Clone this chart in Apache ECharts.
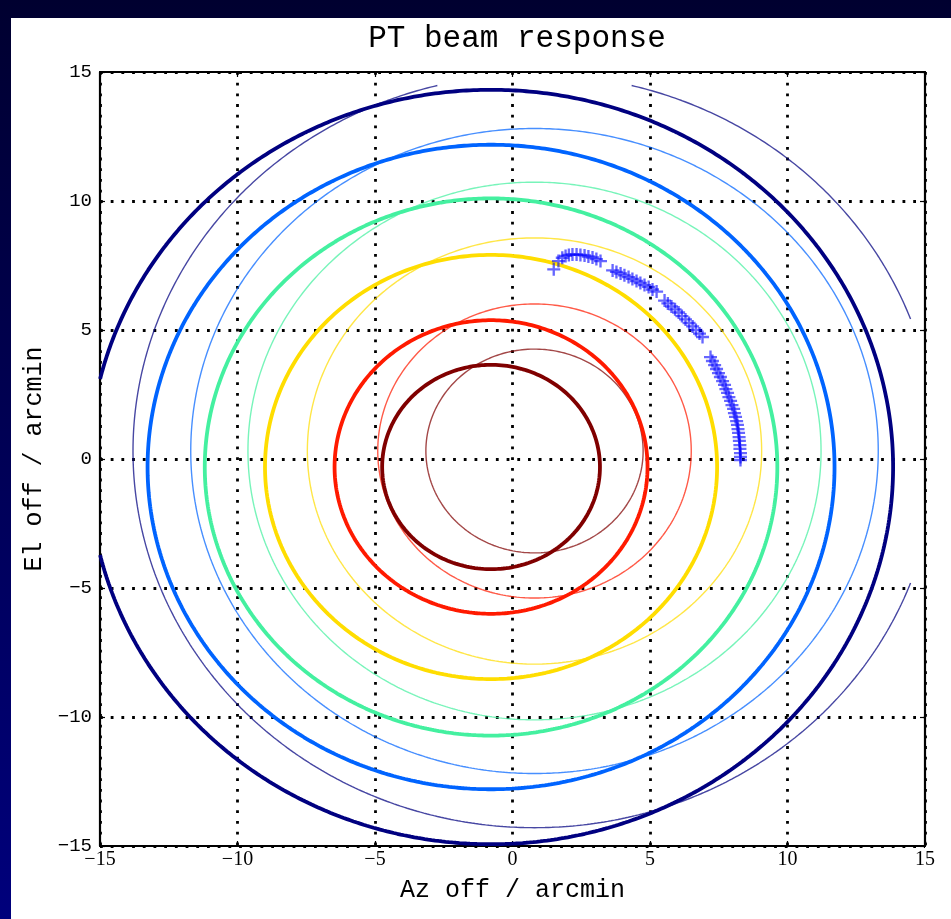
<!DOCTYPE html>
<html>
<head>
<meta charset="utf-8">
<script src="https://cdn.jsdelivr.net/npm/echarts@6/dist/echarts.min.js"></script>
<style>
  html, body { margin: 0; padding: 0; width: 951px; height: 919px; overflow: hidden;
    background: linear-gradient(to bottom, #000030 0%, #00005a 55%, #00007c 100%); }
  #chart { position: absolute; left: 11px; top: 18px; width: 940px; height: 901px; background: #ffffff; }
</style>
</head>
<body>
<div id="chart"></div>
<script>
// Contour colours, innermost level first
const levelColors = ['#800000', '#ff1a00', '#ffdd00', '#44f0a0', '#0064ff', '#000080'];

// Fitted beam: centre and contour radii (arcmin), thick rings
const fitCentre = [-0.78, -0.31];
const fitRadii = [3.96, 5.69, 8.22, 10.41, 12.49, 14.62];

// Model beam: centre and contour radii (arcmin), thin rings
const modelCentre = [0.80, 0.31];
const modelRadii = [3.95, 5.70, 8.26, 10.42, 12.50, 14.60];

// Map extent the contours were traced over (same for Az and El)
const contourExtent = [-15, 14.5];

// Scan samples (Az, El offsets in arcmin)
const scanAz = [1.50, 1.67, 1.81, 1.93, 2.05, 2.18, 2.33, 2.47, 2.62, 2.76, 2.91, 3.05, 3.20,
  3.64, 3.78, 3.93, 4.07, 4.22, 4.36, 4.51, 4.65, 4.80, 4.95, 5.09, 5.24,
  5.53, 5.65, 5.78, 5.91, 6.04, 6.16, 6.29, 6.42, 6.55, 6.67, 6.80, 6.91,
  7.20, 7.27, 7.35, 7.42, 7.49, 7.56, 7.64, 7.71, 7.76, 7.82, 7.87, 7.93, 7.98, 8.04,
  8.07, 8.11, 8.15, 8.18, 8.20, 8.22, 8.24, 8.25, 8.27, 8.27, 8.29, 8.29, 8.29];
const scanEl = [7.35, 7.67, 7.80, 7.87, 7.91, 7.93, 7.93, 7.91, 7.89, 7.85, 7.81, 7.75, 7.67,
  7.31, 7.25, 7.19, 7.12, 7.05, 6.98, 6.90, 6.82, 6.74, 6.67, 6.57, 6.49,
  6.14, 6.03, 5.91, 5.80, 5.68, 5.54, 5.41, 5.27, 5.14, 5.00, 4.86, 4.73,
  3.95, 3.80, 3.64, 3.49, 3.33, 3.18, 3.02, 2.87, 2.71, 2.56, 2.40, 2.25, 2.09, 1.94,
  1.78, 1.63, 1.47, 1.32, 1.16, 1.01, 0.85, 0.70, 0.54, 0.39, 0.23, 0.08, -0.04];

// Axis setup
const axisMin = -15, axisMax = 15, axisStep = 5;

const MINUS = '\u2212';
const fmt = v => (v < 0 ? MINUS + Math.abs(v) : String(v));

// Trace a ring as polyline runs, cut where it leaves the contour extent
function ringRuns(centre, r) {
  const runs = [];
  let cur = [];
  const n = 720;
  for (let i = 0; i <= n; i++) {
    const a = (i / n) * 2 * Math.PI;
    const x = centre[0] + r * Math.cos(a);
    const y = centre[1] + r * Math.sin(a);
    const inside = x >= contourExtent[0] && x <= contourExtent[1] && y >= contourExtent[0] && y <= contourExtent[1];
    if (inside) cur.push([x, y]);
    else if (cur.length) { runs.push(cur); cur = []; }
  }
  if (cur.length) runs.push(cur);
  // join the run that wraps past angle 0
  if (runs.length > 1) {
    const first = runs[0], last = runs[runs.length - 1];
    if (Math.abs(first[0][0] - last[last.length - 1][0]) < 1e-9 && Math.abs(first[0][1] - last[last.length - 1][1]) < 1e-9) {
      runs[0] = last.concat(first);
      runs.pop();
    }
  }
  return runs;
}

const series = [];
function addRings(centre, radii, width, opacity, z) {
  radii.forEach((r, i) => {
    ringRuns(centre, r).forEach(run => {
      series.push({
        type: 'line', data: run, showSymbol: false, symbol: 'none', smooth: false,
        clip: true, silent: true, z: z,
        lineStyle: { color: levelColors[i], width: width, opacity: opacity }
      });
    });
  });
}
addRings(modelCentre, modelRadii, 1.4, 0.72, 2);
addRings(fitCentre, fitRadii, 3.8, 1, 3);

series.push({
  type: 'scatter', z: 4, silent: true,
  data: scanAz.map((x, i) => [x, scanEl[i]]),
  symbol: 'path://M4.1,0H5.9V10H4.1ZM0,4.1H10V5.9H0Z',
  symbolSize: 13,
  itemStyle: { color: '#0000ff', opacity: 0.6 }
});

const gridLine = { show: true, lineStyle: { color: '#000', width: 2.8, type: [2.8, 7.9], cap: 'butt' } };
const tickStyle = { show: true, inside: true, length: 5, lineStyle: { color: '#000', width: 1.2 } };
const lineStyleAxis = { show: true, onZero: false, lineStyle: { color: '#000', width: 2.2 } };

const baseAxis = {
  type: 'value', min: axisMin, max: axisMax, interval: axisStep
};

const chart = echarts.init(document.getElementById('chart'), null, { renderer: 'canvas' });
chart.setOption({
  animation: false,
  backgroundColor: '#ffffff',
  title: {
    text: 'PT beam response', left: 501, top: 0, textAlign: 'center',
    textStyle: { fontFamily: 'Liberation Mono', fontWeight: 'normal', fontSize: 31, color: '#000' }
  },
  grid: { left: 89, right: 26, top: 54, bottom: 73, containLabel: false },
  xAxis: [
    Object.assign({}, baseAxis, {
      position: 'bottom', name: 'Az off / arcmin', nameLocation: 'middle', nameGap: 32,
      nameTextStyle: { fontFamily: 'Liberation Mono', fontSize: 25, color: '#000' },
      axisLine: lineStyleAxis, axisTick: tickStyle, splitLine: gridLine,
      axisLabel: { formatter: fmt, margin: 4, fontFamily: 'Liberation Serif', fontSize: 20, color: '#000' }
    }),
    Object.assign({}, baseAxis, {
      position: 'top', axisLine: lineStyleAxis, axisTick: tickStyle,
      splitLine: { show: false }, axisLabel: { show: false }
    })
  ],
  yAxis: [
    Object.assign({}, baseAxis, {
      position: 'left', name: 'El off / arcmin', nameLocation: 'middle', nameGap: 46,
      nameTextStyle: { fontFamily: 'Liberation Mono', fontSize: 25, color: '#000' },
      axisLine: lineStyleAxis, axisTick: tickStyle, splitLine: gridLine,
      axisLabel: { formatter: fmt, margin: 8, fontFamily: 'Liberation Mono', fontSize: 19, color: '#000' }
    }),
    Object.assign({}, baseAxis, {
      position: 'right', axisLine: lineStyleAxis, axisTick: tickStyle,
      splitLine: { show: false }, axisLabel: { show: false }
    })
  ],
  series: series
});
</script>
</body>
</html>
